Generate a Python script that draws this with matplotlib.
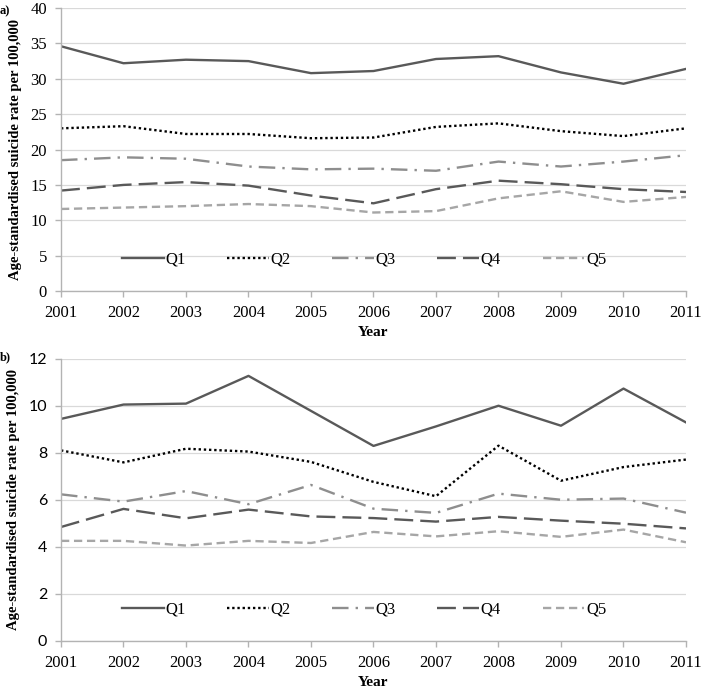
#!/usr/bin/env python3
"""Age-standardised suicide rates by quintile, 2001-2011 (panels a and b)."""

import matplotlib
matplotlib.use("Agg")
import matplotlib.pyplot as plt

years = [2001, 2002, 2003, 2004, 2005, 2006, 2007, 2008, 2009, 2010, 2011]
series_names = ["Q1", "Q2", "Q3", "Q4", "Q5"]

# panel a)
a_q1 = [34.6, 32.2, 32.7, 32.5, 30.8, 31.1, 32.8, 33.2, 30.9, 29.3, 31.4]
a_q2 = [23.0, 23.3, 22.2, 22.2, 21.6, 21.7, 23.2, 23.7, 22.6, 21.9, 23.0]
a_q3 = [18.5, 18.9, 18.7, 17.6, 17.2, 17.3, 17.0, 18.3, 17.6, 18.3, 19.2]
a_q4 = [14.2, 15.0, 15.4, 14.9, 13.5, 12.4, 14.4, 15.6, 15.1, 14.4, 14.0]
a_q5 = [11.6, 11.8, 12.0, 12.3, 12.0, 11.1, 11.3, 13.1, 14.1, 12.6, 13.3]

# panel b)
b_q1 = [9.45, 10.06, 10.10, 11.28, 9.79, 8.30, 9.13, 10.01, 9.16, 10.74, 9.30]
b_q2 = [8.11, 7.60, 8.18, 8.06, 7.62, 6.77, 6.16, 8.31, 6.82, 7.40, 7.72]
b_q3 = [6.24, 5.93, 6.38, 5.82, 6.64, 5.63, 5.45, 6.27, 6.01, 6.06, 5.46]
b_q4 = [4.85, 5.62, 5.22, 5.59, 5.30, 5.23, 5.08, 5.28, 5.12, 4.99, 4.79]
b_q5 = [4.26, 4.26, 4.06, 4.26, 4.17, 4.64, 4.45, 4.67, 4.43, 4.74, 4.20]

STYLES = [
    dict(color="#595959", linestyle="-"),
    dict(color="#000000", linestyle=(0, (1, 1.2))),
    dict(color="#8e8e8e", linestyle=(0, (7, 3, 1, 3))),
    dict(color="#595959", linestyle=(0, (8, 3))),
    dict(color="#a6a6a6", linestyle=(0, (3.5, 2))),
]
SERIF = "Liberation Serif"
SPINE = "#b3b3b3"
GRID = "#d9d9d9"


def draw_panel(ax, data, ymax, ystep, tick_font, tick_size):
    for vals, name, st in zip(data, series_names, STYLES):
        ax.plot(years, vals, lw=1.7, label=name, **st)
    ax.set_xlim(years[0], years[-1])
    ax.set_ylim(0, ymax)
    ax.set_xticks(years)
    ax.set_yticks(range(0, ymax + 1, ystep))
    ax.grid(axis="y", color=GRID, lw=0.9)
    ax.set_axisbelow(True)
    for s in ["top", "right"]:
        ax.spines[s].set_visible(False)
    for s in ["left", "bottom"]:
        ax.spines[s].set_color(SPINE)
        ax.spines[s].set_linewidth(1.0)
    ax.tick_params(axis="both", color=SPINE, length=4, width=1.0, pad=6)
    for lab in ax.get_xticklabels():
        lab.set_fontfamily(SERIF)
        lab.set_fontsize(12)
    for lab in ax.get_yticklabels():
        lab.set_fontfamily(tick_font)
        lab.set_fontsize(tick_size)
    ax.set_xlabel("Year", fontfamily=SERIF, fontweight="bold", fontsize=11,
                  labelpad=4)
    ax.set_ylabel("Age-standardised suicide rate per 100,000", fontfamily=SERIF,
                  fontweight="bold", fontsize=10.5, labelpad=6)
    ax.legend(loc="center", bbox_to_anchor=(0.485, 0.11), ncol=5, frameon=False,
              prop={"family": SERIF, "size": 12}, handlelength=2.5,
              handletextpad=0.1, columnspacing=2.5)


fig = plt.figure(figsize=(7.01, 6.89), dpi=100)
ax_a = fig.add_axes([0.087, 0.5776, 0.8916, 0.4107])
ax_b = fig.add_axes([0.087, 0.0697, 0.8916, 0.4093])

draw_panel(ax_a, [a_q1, a_q2, a_q3, a_q4, a_q5], 40, 5, SERIF, 12)
draw_panel(ax_b, [b_q1, b_q2, b_q3, b_q4, b_q5], 12, 2, "Lato", 11.5)

fig.text(0.0, 0.993, "a)", fontfamily=SERIF, fontweight="bold", fontsize=9,
         va="top", ha="left")
fig.text(0.0, 0.490, "b)", fontfamily=SERIF, fontweight="bold", fontsize=9,
         va="top", ha="left")

fig.savefig("out.png", dpi=100)
